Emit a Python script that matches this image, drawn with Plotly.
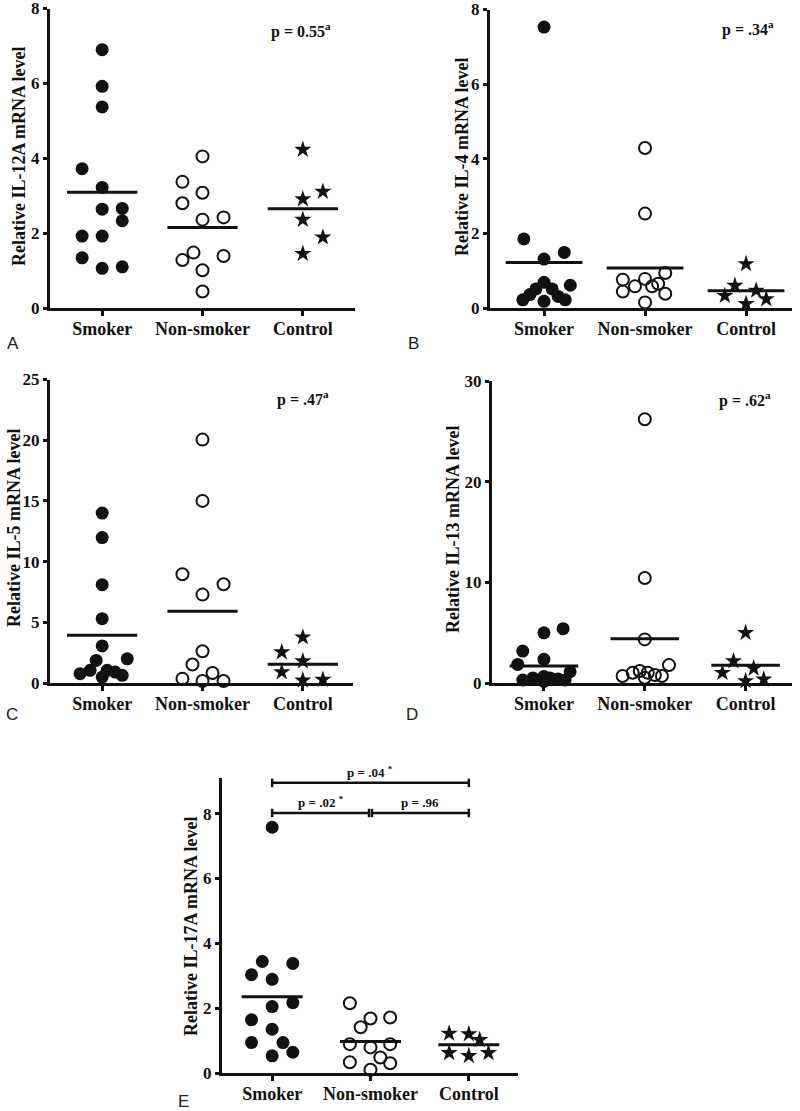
import plotly.graph_objects as go

W, H = 800, 1111
categories = ["Smoker", "Non-smoker", "Control"]

# ---------------- data ----------------
# Panel A: IL-12A
a_smoker = [6.90, 5.92, 5.37, 3.72, 3.22, 2.64, 2.66, 2.33, 1.92, 1.92, 1.34, 1.06, 1.10]
a_nonsmoker = [4.05, 3.37, 3.08, 2.80, 2.36, 2.42, 1.28, 1.48, 1.39, 1.01, 0.44]
a_control = [4.23, 3.11, 2.91, 2.36, 1.89, 1.45]
a_means = [3.09, 2.15, 2.65]
a_smoker_dx = [0, 0, 0, -0.2, 0, 0, 0.2, 0.2, -0.2, 0, -0.2, 0, 0.2]
a_nonsmoker_dx = [0, -0.2, 0, -0.2, 0, 0.21, -0.2, -0.09, 0.21, 0, 0]
a_control_dx = [0, 0.2, 0, 0, 0.2, 0]

# Panel B: IL-4
b_smoker = [7.53, 1.85, 1.49, 1.31, 0.69, 0.61, 0.51, 0.51, 0.36, 0.31, 0.22, 0.22, 0.18]
b_nonsmoker = [4.29, 2.53, 0.94, 0.76, 0.78, 0.58, 0.58, 0.44, 0.38, 0.15, 0.65]
b_control = [1.18, 0.60, 0.47, 0.33, 0.24, 0.11]
b_means = [1.22, 1.07, 0.46]
b_smoker_dx = [0, -0.2, 0.2, 0, 0, 0.26, -0.08, 0.08, -0.14, 0.14, -0.21, 0.21, 0]
b_nonsmoker_dx = [0, 0, 0.2, -0.22, 0, -0.1, 0.07, -0.22, 0.2, 0, 0.13]
b_control_dx = [0, -0.11, 0.1, -0.21, 0.2, 0]

# Panel C: IL-5
c_smoker = [14.0, 11.98, 8.10, 5.30, 3.05, 1.99, 1.86, 1.04, 1.04, 0.90, 0.77, 0.63, 0.49]
c_nonsmoker = [20.05, 15.0, 8.96, 8.13, 7.28, 2.62, 1.53, 0.82, 0.36, 0.16, 0.16]
c_control = [3.77, 2.54, 1.80, 0.90, 0.28, 0.22]
c_means = [3.93, 5.90, 1.54]
c_smoker_dx = [0, 0, 0, 0, 0, 0.25, -0.06, -0.12, 0.05, 0.13, -0.22, 0.2, 0]
c_nonsmoker_dx = [0, 0, -0.2, 0.21, 0, 0, -0.1, 0.1, -0.2, 0, 0.21]
c_control_dx = [0, -0.21, 0, -0.21, 0.2, 0]

# Panel D: IL-13
d_smoker = [5.40, 4.98, 3.17, 2.35, 1.85, 1.12, 0.30, 0.50, 0.65, 0.50, 0.40, 0.30, 0.15]
d_nonsmoker = [26.2, 10.43, 4.33, 1.78, 0.69, 1.02, 1.19, 1.02, 0.79, 0.69, 0.52]
d_control = [4.98, 2.18, 1.45, 1.02, 0.37, 0.20]
d_means = [1.70, 4.40, 1.77]
d_smoker_dx = [0.19, 0, -0.21, 0, -0.26, 0.26, -0.21, -0.11, 0, 0.06, 0.14, 0.21, 0]
d_nonsmoker_dx = [0, 0, 0, 0.24, -0.22, -0.12, -0.05, 0.03, 0.1, 0.17, 0]
d_control_dx = [0, -0.12, 0.08, -0.23, 0.18, 0]

# Panel E: IL-17A
e_smoker = [7.58, 3.44, 3.38, 3.03, 2.89, 2.17, 2.05, 1.64, 1.35, 0.94, 0.94, 0.53, 0.64]
e_nonsmoker = [2.15, 1.68, 1.71, 1.41, 0.89, 0.79, 0.89, 0.48, 0.33, 0.30, 0.10]
e_control = [1.22, 1.20, 1.02, 0.62, 0.53, 0.62]
e_means = [2.35, 0.97, 0.87]
e_smoker_dx = [0, -0.1, 0.21, -0.21, 0, 0.21, 0, -0.21, 0, -0.21, 0.11, 0, 0.21]
e_nonsmoker_dx = [-0.21, 0, 0.2, -0.1, -0.21, 0, 0.2, 0.1, -0.21, 0.2, 0]
e_control_dx = [-0.2, 0, 0.11, -0.2, 0, 0.2]

y_titles = ["Relative IL-12A mRNA level", "Relative IL-4 mRNA level",
            "Relative IL-5 mRNA level", "Relative IL-13 mRNA level",
            "Relative IL-17A mRNA level"]
p_labels = ["p = 0.55<sup>a</sup>", "p = .34<sup>a</sup>",
            "p = .47<sup>a</sup>", "p = .62<sup>a</sup>"]
e_pair_labels = ["p = .04 <sup>*</sup>", "p = .02 <sup>*</sup>", "p = .96"]
panel_letters = ["A", "B", "C", "D", "E"]

# ---------------- layout helpers ----------------
def px_x(p):
    return p / W

def px_y(p):
    return 1 - p / H

panels = [
    dict(vals=[a_smoker, a_nonsmoker, a_control], dx=[a_smoker_dx, a_nonsmoker_dx, a_control_dx],
         means=a_means, xdom=(50, 355), ydom=(8.5, 308), yrange=[0, 8], yticks=[0, 2, 4, 6, 8],
         xrange=[-0.52, 2.52], half=0.35, title_pos=(19, 157), letter_pos=(13, 343),
         p_pos=(1.98, 7.4)),
    dict(vals=[b_smoker, b_nonsmoker, b_control], dx=[b_smoker_dx, b_nonsmoker_dx, b_control_dx],
         means=b_means, xdom=(490, 792), ydom=(9.5, 308), yrange=[0, 8], yticks=[0, 2, 4, 6, 8],
         xrange=[-0.535, 2.455], half=0.38, title_pos=(462, 157), letter_pos=(413, 343),
         p_pos=(2.02, 7.49)),
    dict(vals=[c_smoker, c_nonsmoker, c_control], dx=[c_smoker_dx, c_nonsmoker_dx, c_control_dx],
         means=c_means, xdom=(50, 353), ydom=(379.5, 683), yrange=[0, 25], yticks=[0, 5, 10, 15, 20, 25],
         xrange=[-0.52, 2.5], half=0.35, title_pos=(14, 528), letter_pos=(12, 714),
         p_pos=(2.0, 23.4)),
    dict(vals=[d_smoker, d_nonsmoker, d_control], dx=[d_smoker_dx, d_nonsmoker_dx, d_control_dx],
         means=d_means, xdom=(492, 792), ydom=(381, 683), yrange=[0, 30], yticks=[0, 10, 20, 30],
         xrange=[-0.515, 2.46], half=0.34, title_pos=(453, 530), letter_pos=(412, 714),
         p_pos=(1.99, 28.2)),
    dict(vals=[e_smoker, e_nonsmoker, e_control], dx=[e_smoker_dx, e_nonsmoker_dx, e_control_dx],
         means=e_means, xdom=(222, 518), ydom=(778, 1073), yrange=[0, 9.1], yticks=[0, 2, 4, 6, 8],
         xrange=[-0.51, 2.5], half=0.31, title_pos=(191, 927), letter_pos=(183, 1101),
         p_pos=None),
]

BLACK = "#111111"
SERIF = "Liberation Serif"
marker_styles = [
    dict(symbol="circle", size=13, color=BLACK, line=dict(width=0)),
    dict(symbol="circle-open", size=12, color=BLACK, line=dict(width=2, color=BLACK)),
    dict(symbol="star", size=13, color=BLACK, line=dict(width=0)),
]

fig = go.Figure()
layout = dict(
    width=W, height=H, margin=dict(l=0, r=0, t=0, b=0),
    paper_bgcolor="white", plot_bgcolor="white", showlegend=False,
    template="none",
    font=dict(family=SERIF, size=18, color=BLACK, weight="bold"),
)
annotations = []
shapes = []

for i, pnl in enumerate(panels):
    k = i + 1
    xa = "x" if k == 1 else f"x{k}"
    ya = "y" if k == 1 else f"y{k}"
    for g in range(3):
        xs = [g + d for d in pnl["dx"][g]]
        fig.add_trace(go.Scatter(
            x=xs, y=pnl["vals"][g], mode="markers", marker=marker_styles[g],
            xaxis=xa, yaxis=ya, cliponaxis=False, hoverinfo="y", name=categories[g]))
    for g in range(3):
        m = pnl["means"][g]
        fig.add_trace(go.Scatter(
            x=[g - pnl["half"], g + pnl["half"]], y=[m, m], mode="lines",
            line=dict(color=BLACK, width=3), xaxis=xa, yaxis=ya, hoverinfo="skip"))

    xkey = "xaxis" if k == 1 else f"xaxis{k}"
    ykey = "yaxis" if k == 1 else f"yaxis{k}"
    layout[xkey] = dict(
        domain=[px_x(pnl["xdom"][0]), px_x(pnl["xdom"][1])], anchor=ya,
        range=pnl["xrange"], tickmode="array", tickvals=[0, 1, 2], ticktext=categories,
        ticks="outside", ticklen=5, tickwidth=3, tickcolor=BLACK, ticklabelstandoff=-3,
        showline=True, linewidth=3, linecolor=BLACK, showgrid=False, zeroline=False,
        tickfont=dict(family=SERIF, size=18, color=BLACK, weight="bold"), fixedrange=True,
        ticklabeloverflow="allow",
    )
    layout[ykey] = dict(
        domain=[px_y(pnl["ydom"][1]), px_y(pnl["ydom"][0])], anchor=xa,
        range=pnl["yrange"], tickmode="array", tickvals=pnl["yticks"],
        ticks="outside", ticklen=4, tickwidth=2.5, tickcolor=BLACK,
        showline=True, linewidth=3, linecolor=BLACK, showgrid=False, zeroline=False,
        tickfont=dict(family=SERIF, size=17, color=BLACK, weight="bold"), fixedrange=True,
        ticklabeloverflow="allow",
    )
    tx, ty = pnl["title_pos"]
    annotations.append(dict(
        text=y_titles[i], x=px_x(tx), y=px_y(ty), xref="paper", yref="paper",
        textangle=-90, showarrow=False, xanchor="center", yanchor="middle",
        font=dict(family=SERIF, size=18, color=BLACK, weight="bold")))
    lx, ly = pnl["letter_pos"]
    annotations.append(dict(
        text=panel_letters[i], x=px_x(lx), y=px_y(ly), xref="paper", yref="paper",
        showarrow=False, xanchor="center", yanchor="middle",
        font=dict(family="Liberation Sans", size=17, color="#222222", weight="normal")))
    if pnl["p_pos"] is not None:
        annotations.append(dict(
            text=p_labels[i], x=pnl["p_pos"][0], y=pnl["p_pos"][1], xref=xa, yref=ya,
            showarrow=False, xanchor="center", yanchor="middle",
            font=dict(family=SERIF, size=16, color=BLACK, weight="bold")))

# Panel E significance brackets
brackets = [(0, 2, 8.95, 0), (0, 0.985, 8.02, 1), (1.015, 2, 8.02, 2)]
for x0, x1, yb, li in brackets:
    tick = 0.13
    line = dict(color=BLACK, width=2.5)
    shapes.append(dict(type="line", xref="x5", yref="y5", x0=x0, x1=x1, y0=yb, y1=yb, line=line))
    shapes.append(dict(type="line", xref="x5", yref="y5", x0=x0, x1=x0, y0=yb - tick, y1=yb + tick, line=line))
    shapes.append(dict(type="line", xref="x5", yref="y5", x0=x1, x1=x1, y0=yb - tick, y1=yb + tick, line=line))
    annotations.append(dict(
        text=e_pair_labels[li], x=(x0 + x1) / 2, y=yb, xref="x5", yref="y5",
        showarrow=False, xanchor="center", yanchor="bottom", yshift=1,
        font=dict(family=SERIF, size=13, color=BLACK, weight="bold")))

layout["annotations"] = annotations
layout["shapes"] = shapes
fig.update_layout(**layout)
fig.write_html("out.html", config={"displayModeBar": False},
               post_script="document.body.style.margin='0';document.body.style.overflow='hidden';")
